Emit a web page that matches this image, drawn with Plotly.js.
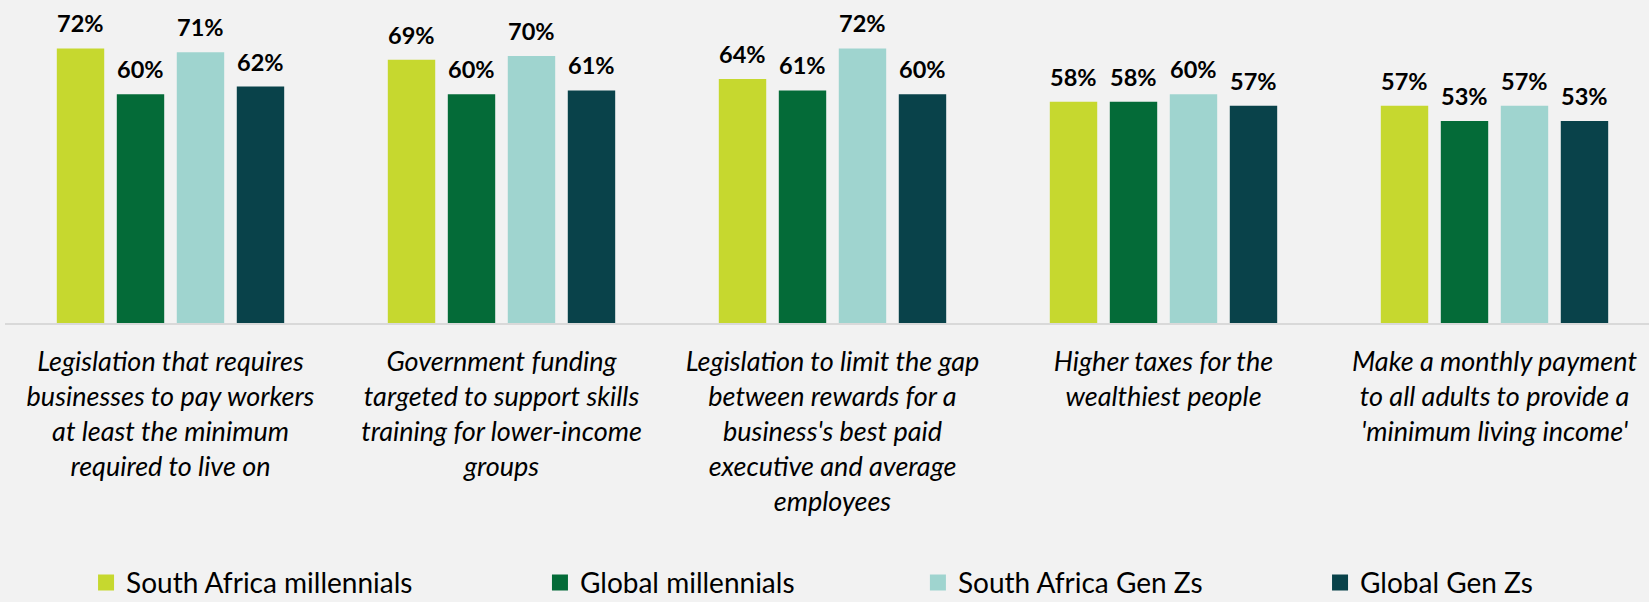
<!DOCTYPE html>
<html><head><meta charset="utf-8">
<script src="https://cdn.plot.ly/plotly-3.0.1.min.js"></script>
<style>html,body{margin:0;padding:0;background:#f2f2f2;}</style>
</head><body><div id="chart" style="width:1649px;height:602px;"></div>
<script>
const categories = [
  "Legislation that requires<br>businesses to pay workers<br>at least the minimum<br>required to live on",
  "Government funding<br>targeted to support skills<br>training for lower-income<br>groups",
  "Legislation to limit the gap<br>between rewards for a<br>business's best paid<br>executive and average<br>employees",
  "Higher taxes for the<br>wealthiest people",
  "Make a monthly payment<br>to all adults to provide a<br>'minimum living income'"
];
const seriesNames = ["South Africa millennials", "Global millennials", "South Africa Gen Zs", "Global Gen Zs"];
const saMillennials = [72, 69, 64, 58, 57];
const globalMillennials = [60, 60, 61, 58, 53];
const saGenZ = [71, 70, 72, 60, 57];
const globalGenZ = [62, 61, 60, 57, 53];
const seriesValues = [saMillennials, globalMillennials, saGenZ, globalGenZ];
const colors = ["#c6d82f", "#046b38", "#9fd4cf", "#09424a"];

const xIdx = categories.map((c, i) => i);
const BARGAP = 0.275;
const legendNames = ["legend", "legend2", "legend3", "legend4"];
const legendX = [0.0493, 0.3254, 0.5553, 0.7999];

const traces = seriesValues.map((vals, j) => ({
  type: "bar",
  x: xIdx,
  y: vals,
  name: seriesNames[j],
  marker: {color: colors[j], line: {width: 0}},
  showlegend: false,
  hoverinfo: "skip"
}));
// legend-only entries (no points) to get larger square swatches
seriesNames.forEach((nm, j) => {
  traces.push({
    type: "scatter", mode: "markers", x: [null], y: [null],
    name: nm, legend: legendNames[j], showlegend: true,
    marker: {symbol: "square", size: 16, color: colors[j]},
    hoverinfo: "skip"
  });
});

const annotations = [];
const slot = (1 - BARGAP) / seriesValues.length;
seriesValues.forEach((vals, j) => {
  const off = (j - (seriesValues.length - 1) / 2) * slot;
  vals.forEach((v, i) => {
    annotations.push({
      x: i + off, y: v, xref: "x", yref: "y",
      text: v + "%", showarrow: false, yanchor: "bottom", yshift: 9,
      font: {family: "Lato", size: 23.5, color: "#000000", weight: "bold"}
    });
  });
});

const layout = {
  width: 1649, height: 602,
  paper_bgcolor: "#f2f2f2", plot_bgcolor: "#f2f2f2",
  margin: {l: 5, r: 0, t: 0, b: 279},
  barmode: "group", bargap: BARGAP, bargroupgap: 0.21,
  font: {family: "Lato", color: "#000000"},
  xaxis: {
    range: [-0.5, -0.5 + 1644 / 331],
    tickvals: xIdx, ticktext: categories,
    tickfont: {family: "Lato", size: 27, color: "#000000", style: "italic"},
    showline: true, linecolor: "#d9d9d9", linewidth: 1.5,
    showgrid: false, zeroline: false, ticks: "", ticklabelstandoff: 14,
    fixedrange: true
  },
  yaxis: {
    range: [0, 84.7], visible: false, showgrid: false, zeroline: false, fixedrange: true
  },
  annotations: annotations,
  showlegend: true
};
legendNames.forEach((ln, j) => {
  layout[ln] = {
    orientation: "h", x: legendX[j], xanchor: "left",
    yref: "container", y: 0.032, yanchor: "middle",
    bgcolor: "rgba(0,0,0,0)", itemwidth: 30,
    font: {family: "Lato", size: 28, color: "#000000"}
  };
});

Plotly.newPlot("chart", traces, layout, {displayModeBar: false, staticPlot: true});
</script>
</body></html>
